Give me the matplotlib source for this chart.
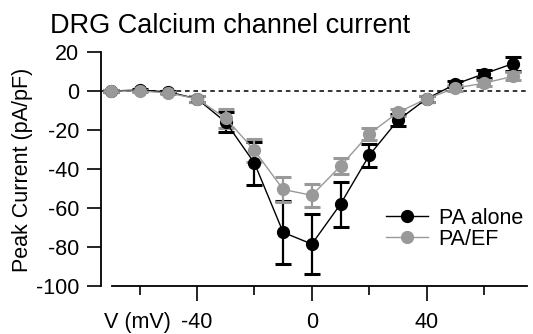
import matplotlib
matplotlib.use("Agg")
import matplotlib.pyplot as plt
from matplotlib.lines import Line2D

plt.rcParams['font.family'] = ['Liberation Sans', 'DejaVu Sans']

voltage = [-70, -60, -50, -40, -30, -20, -10, 0, 10, 20, 30, 40, 50, 60, 70]
pa_alone = [0, 0.5, -0.5, -4, -16, -37, -72.5, -78.5, -58, -33, -15, -4, 3.5, 8.8, 14]
pa_alone_err = [0.5, 0.5, 0.5, 1.5, 5, 11, 16, 15.5, 11.5, 6, 3, 1.5, 1.5, 2, 3.5]
pa_ef = [0, 0, -1, -4, -14, -30.5, -50.5, -53.5, -38.5, -22, -11, -4, 1.5, 4, 7.5]
pa_ef_err = [0.5, 0.5, 0.5, 1.5, 5, 6, 6.5, 6, 4, 3, 2, 1.5, 1.5, 1.5, 2]

labels = ["PA alone", "PA/EF"]
colors = ["#000000", "#999999"]
yticks = [20, 0, -20, -40, -60, -80, -100]
xticks_major = [-40, 0, 40]
xticks_minor = [-60, -20, 20, 60]

W, H = 533, 334
fig = plt.figure(figsize=(W / 100, H / 100), dpi=100)
ax = fig.add_axes([101 / W, (H - 286) / H, 426 / W, 234 / H])

for y, e, c, lab in zip([pa_alone, pa_ef], [pa_alone_err, pa_ef_err], colors, labels):
    ax.errorbar(voltage, y, yerr=e, color=c, marker='o', markersize=8.5, lw=1.0,
                elinewidth=1.6, capsize=6, capthick=2.2, clip_on=False, zorder=3,
                label=lab)

ax.axhline(0, color='black', lw=1.1, ls=(0, (3, 2.5)), zorder=1)

ax.set_xlim(-73.5, 75)
ax.set_ylim(-100, 20)
ax.spines['top'].set_visible(False)
ax.spines['right'].set_visible(False)
ax.spines['left'].set_bounds(-100, 20)
ax.spines['bottom'].set_bounds(-69.7, 75)
for s in ['left', 'bottom']:
    ax.spines[s].set_linewidth(1.3)

ax.set_yticks(yticks)
ax.set_yticklabels([str(v) for v in yticks])
ax.set_xticks(xticks_major)
ax.set_xticklabels([str(v) for v in xticks_major])
ax.set_xticks(xticks_minor, minor=True)
ax.tick_params(axis='y', length=10, width=1.2, pad=5.5, labelsize=15.5)
ax.tick_params(axis='x', which='major', length=11, width=1.2, pad=8, labelsize=15.5)
ax.tick_params(axis='x', which='minor', length=6.5, width=1.2)

fig.text(50 / W, 1 - 33 / H, "DRG Calcium channel current", fontsize=19.5,
         va='baseline', ha='left')
fig.text(23 / W, 1 - 170 / H, "Peak Current (pA/pF)", fontsize=15.5,
         rotation=90, va='center', ha='center')
fig.text(104 / W, 1 - 328 / H, "V (mV)", fontsize=15.5, va='baseline', ha='left')

handles = [Line2D([], [], color=c, marker='o', markersize=8.5, lw=1.0) for c in colors]
ax.legend(handles, labels, loc='upper left', bbox_to_anchor=(386 / W, 1 - 208 / H),
          bbox_transform=fig.transFigure, frameon=False, fontsize=15.5,
          handlelength=1.95, handletextpad=0.5, labelspacing=0.0, borderpad=0,
          borderaxespad=0)

fig.savefig("out.png", dpi=100)
